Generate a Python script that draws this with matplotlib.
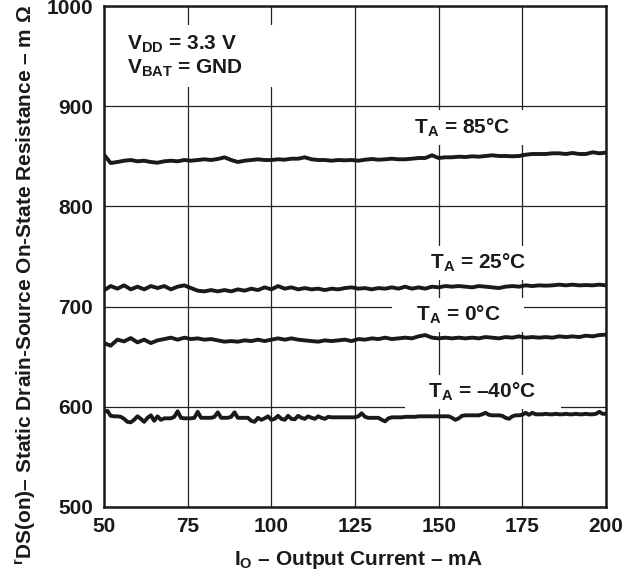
import matplotlib
matplotlib.use("Agg")
import matplotlib.pyplot as plt
from matplotlib.patches import Rectangle
import numpy as np

plt.rcParams['font.family'] = ['Liberation Sans', 'DejaVu Sans']
plt.rcParams['font.weight'] = 'bold'
plt.rcParams['mathtext.fontset'] = 'custom'
plt.rcParams['mathtext.bf'] = 'Liberation Sans:bold'
plt.rcParams['mathtext.rm'] = 'Liberation Sans'
plt.rcParams['mathtext.it'] = 'Liberation Sans:italic'

# ---------------- data ----------------
x_2ma = list(range(50, 201, 2))

r_85 = [851.6, 843.3, 844.3, 845.6, 846.3, 845.0, 845.6, 844.3, 843.6, 845.0,
        845.6, 845.0, 846.3, 845.6, 846.3, 847.0, 846.3, 847.3, 849.0, 846.3,
        844.3, 845.6, 846.3, 847.0, 846.3, 846.3, 847.0, 846.6, 847.6, 847.6,
        849.0, 847.0, 846.3, 846.3, 845.6, 846.3, 846.0, 846.3, 845.6, 846.6,
        847.3, 846.6, 847.0, 847.6, 847.0, 847.0, 847.6, 848.3, 848.3, 851.0,
        848.3, 849.0, 849.0, 849.6, 849.3, 850.0, 849.6, 850.3, 851.0, 850.3,
        850.3, 850.0, 850.3, 851.6, 852.3, 852.3, 852.3, 853.0, 853.0, 852.3,
        853.3, 852.3, 852.3, 854.0, 853.0, 853.6]

r_25 = [716.2, 720.5, 717.9, 721.2, 717.2, 719.9, 717.2, 720.5, 718.5, 720.5,
        717.2, 719.9, 721.2, 718.5, 715.9, 715.2, 716.5, 715.2, 716.5, 715.2,
        717.2, 715.9, 717.9, 716.5, 719.2, 717.2, 720.5, 717.9, 719.2, 717.2,
        718.5, 717.2, 717.9, 716.5, 717.9, 717.2, 718.5, 719.2, 717.9, 718.5,
        717.2, 718.5, 717.9, 719.2, 717.9, 719.9, 717.9, 719.2, 717.9, 719.9,
        719.2, 720.5, 719.9, 720.5, 719.9, 719.2, 720.5, 719.9, 719.2, 718.5,
        719.9, 720.5, 719.9, 721.2, 720.5, 721.2, 720.9, 721.2, 721.9, 721.2,
        721.9, 721.2, 721.5, 721.2, 721.9, 721.2]

r_0 = [663.6, 661.0, 667.0, 665.3, 668.6, 664.3, 667.0, 663.6, 666.3, 667.6,
       669.0, 667.0, 669.0, 667.6, 668.3, 667.0, 667.6, 666.3, 665.0, 665.6,
       665.0, 666.3, 665.6, 667.0, 665.6, 667.0, 668.3, 667.0, 668.3, 667.0,
       666.3, 665.6, 665.0, 666.3, 665.6, 666.3, 667.0, 665.6, 667.6, 667.0,
       668.3, 667.6, 669.0, 667.6, 668.3, 669.0, 668.3, 670.3, 671.6, 669.0,
       668.3, 669.0, 668.3, 669.0, 668.3, 669.0, 668.3, 669.6, 669.0, 668.3,
       669.6, 669.0, 670.3, 669.0, 669.6, 669.0, 669.6, 669.0, 670.3, 669.6,
       670.3, 669.6, 671.0, 670.3, 671.6, 672.0]

x_1ma = list(range(50, 201, 1))
r_m40 = [595.0, 596.0, 591.0, 590.5, 590.5, 590.0, 588.0, 585.0, 584.5, 587.0,
         590.5, 588.0, 585.0, 589.0, 591.5, 586.0, 590.5, 587.0, 588.5, 588.5,
         588.5, 590.0, 595.5, 589.0, 588.5, 588.5, 588.5, 589.0, 595.0, 589.0,
         589.0, 589.0, 589.0, 590.0, 594.5, 589.0, 589.0, 589.0, 590.0, 594.5,
         589.0, 589.0, 589.0, 589.0, 586.0, 585.0, 589.0, 587.0, 588.5, 590.5,
         587.0, 588.0, 591.0, 588.0, 587.0, 591.0, 588.0, 587.5, 591.0, 589.0,
         588.0, 590.5, 589.0, 588.0, 590.5, 589.0, 588.0, 590.0, 589.5, 589.5,
         589.5, 589.5, 589.5, 589.5, 589.5, 589.5, 590.5, 593.5, 590.0, 589.0,
         589.0, 589.0, 589.0, 587.0, 585.5, 588.5, 589.5, 589.5, 589.5, 589.5,
         590.0, 590.0, 590.0, 590.0, 590.5, 590.5, 590.5, 590.5, 590.5, 590.5,
         590.5, 590.5, 590.5, 590.5, 589.0, 587.0, 588.5, 591.0, 591.5, 591.5,
         591.5, 591.5, 591.5, 592.5, 594.0, 592.0, 591.5, 591.5, 591.5, 591.0,
         589.0, 588.0, 590.5, 591.5, 591.5, 592.0, 594.0, 592.0, 594.0, 592.5,
         592.5, 592.5, 593.0, 592.5, 592.5, 593.0, 592.5, 592.5, 593.0, 592.5,
         592.5, 593.0, 592.5, 592.5, 593.0, 592.5, 592.5, 593.0, 595.0, 593.0,
         593.0]

x_ticks = [50, 75, 100, 125, 150, 175, 200]
y_ticks = [500, 600, 700, 800, 900, 1000]

# ---------------- figure ----------------
fig = plt.figure(figsize=(6.3, 5.73), dpi=100)
ax = fig.add_axes([104/630, 1-507/573, 502/630, 501/573])

lw = 2.8
for xs, ys in [(x_2ma, r_85), (x_2ma, r_25), (x_2ma, r_0), (x_1ma, r_m40)]:
    ax.plot(xs, ys, color='#1a1a1a', lw=lw, solid_joinstyle='round', zorder=3)

ax.set_xlim(50, 200)
ax.set_ylim(500, 1000)
ax.set_xticks(x_ticks)
ax.set_yticks(y_ticks)
ax.set_axisbelow(True)
ax.grid(True, color='#222222', lw=0.9)
for s in ax.spines.values():
    s.set_linewidth(1.8)
    s.set_color('#1a1a1a')
ax.tick_params(length=0, labelsize=15, pad=7, colors='#1a1a1a')
ax.tick_params(axis='y', pad=8)
for lab in ax.get_xticklabels() + ax.get_yticklabels():
    lab.set_fontweight('bold')

fig.text(358.5/630, 1-565/573, r'$\mathbf{I_{O}}$ – Output Current – mA',
         ha='center', va='baseline', fontsize=15, color='#1a1a1a')
fig.text(32/630, 1-285/573,
         r'$^{\mathbf{r}}$DS(on)– Static Drain-Source On-State Resistance – m $\mathrm{Ω}$',
         rotation=90, rotation_mode='anchor', ha='center', va='baseline',
         fontsize=15, color='#1a1a1a')

# white backing behind the test-condition text (hides the grid there)
ax.add_patch(Rectangle((0.012, 0.838), 0.338, 0.124, transform=ax.transAxes,
                       fc='white', ec='none', zorder=3.9))
cond_lines = r'$\mathbf{V_{DD}}$ = 3.3 V' + '\n' + r'$\mathbf{V_{BAT}}$ = GND'
ax.text(56.9, 949.5, cond_lines, ha='left', va='center', fontsize=15,
        color='#1a1a1a', linespacing=1.15, zorder=4)

box = dict(boxstyle='square,pad=0.3', fc='white', ec='none')
labels = [(157.3, 878.5, '85°C'), (161.9, 743.5, '25°C'),
          (155.9, 691.6, '0°C'), (163.2, 614.8, '–40°C')]
for lx, ly, t in labels:
    ax.text(lx, ly, '   ' + r'$\mathbf{T_A}$' + ' = ' + t + '    ',
            ha='center', va='center', fontsize=15, color='#1a1a1a',
            bbox=box, zorder=4)

fig.savefig('out.png', dpi=100)
